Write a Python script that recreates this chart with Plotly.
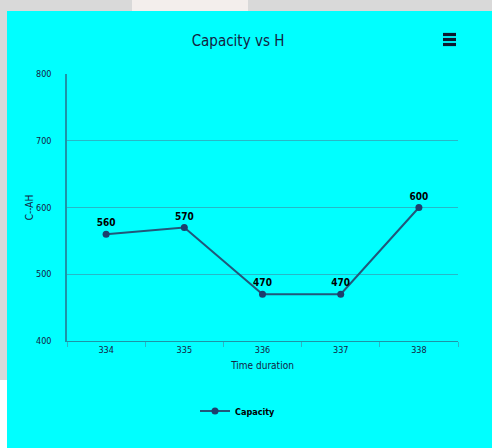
import plotly.graph_objects as go

# Capacity readings per time slot
time_slots = ["334", "335", "336", "337", "338"]
capacity = [560, 570, 470, 470, 600]
y_ticks = [400, 500, 600, 700, 800]

W, H = 492, 448
ML, MR, MT, MB = 67, 34, 74, 107
PW, PH = W - ML - MR, H - MT - MB


def px_x(px):
    return (px - ML) / PW


def px_y(py):
    return (H - MB - py) / PH


FONT = "DejaVu Sans Condensed, Liberation Sans Narrow, Liberation Sans, sans-serif"
TEXT = "#14223f"
GRID = "#26b8c8"
AXIS = "#1e94a6"

fig = go.Figure()
fig.add_trace(go.Scatter(
    x=time_slots,
    y=capacity,
    mode="lines+markers+text",
    name="Capacity",
    line=dict(color="#22577a", width=2),
    marker=dict(color="#1d3f6e", size=7, symbol="circle"),
    text=[str(v) for v in capacity],
    textposition="top center",
    textfont=dict(family=FONT, size=10, color="#000000", weight="bold"),
    cliponaxis=False,
))

shapes = [
    # surrounding grey frame
    dict(type="rect", xref="paper", yref="paper", layer="below",
         x0=px_x(0), x1=px_x(W), y0=px_y(0), y1=px_y(11),
         fillcolor="#d9d9d9", line=dict(width=0)),
    dict(type="rect", xref="paper", yref="paper", layer="below",
         x0=px_x(0), x1=px_x(7), y0=px_y(0), y1=px_y(380),
         fillcolor="#d9d9d9", line=dict(width=0)),
    dict(type="rect", xref="paper", yref="paper", layer="below",
         x0=px_x(0), x1=px_x(7), y0=px_y(380), y1=px_y(H),
         fillcolor="#ffffff", line=dict(width=0)),
    dict(type="rect", xref="paper", yref="paper", layer="below",
         x0=px_x(132), x1=px_x(248), y0=px_y(0), y1=px_y(11),
         fillcolor="#f3eeec", line=dict(width=0)),
]
# menu icon (three bars)
for cy in (34.5, 39.5, 44.5):
    shapes.append(dict(type="rect", xref="paper", yref="paper",
                       x0=px_x(443), x1=px_x(456), y0=px_y(cy + 1.6), y1=px_y(cy - 1.6),
                       fillcolor="#0d1a2e", line=dict(width=0)))

fig.update_layout(
    width=W, height=H,
    margin=dict(l=ML, r=MR, t=MT, b=MB),
    paper_bgcolor="#00ffff",
    plot_bgcolor="#00ffff",
    font=dict(family=FONT, color=TEXT, size=9),
    title=dict(text="Capacity vs H", xref="container", x=238 / W, xanchor="center",
               y=1 - 41 / H, yanchor="middle",
               font=dict(family=FONT, size=15, color=TEXT)),
    showlegend=True,
    legend=dict(orientation="h", x=px_x(238), xanchor="center",
                y=px_y(411), yanchor="middle",
                font=dict(family=FONT, size=9, color="#000000", weight="bold"),
                bgcolor="rgba(0,0,0,0)", itemwidth=30),
    shapes=shapes,
    xaxis=dict(
        type="category", range=[-0.5, 4.5],
        title=dict(text="Time duration", font=dict(family=FONT, size=10, color=TEXT), standoff=8),
        showgrid=False, showline=True, linecolor=AXIS, linewidth=1,
        tickson="boundaries", ticks="outside", ticklen=5, tickcolor=GRID,
        tickfont=dict(family=FONT, size=9, color=TEXT),
    ),
    yaxis=dict(
        range=[400, 800], tickvals=y_ticks,
        title=dict(text="C--AH", font=dict(family=FONT, size=10, color=TEXT), standoff=0),
        showgrid=True, gridcolor=GRID, gridwidth=1,
        showline=True, linecolor=AXIS, linewidth=1.5,
        zeroline=False, ticks="", ticklabelstandoff=12,
        tickfont=dict(family=FONT, size=9, color=TEXT),
    ),
)

fig.write_html("out.html")
